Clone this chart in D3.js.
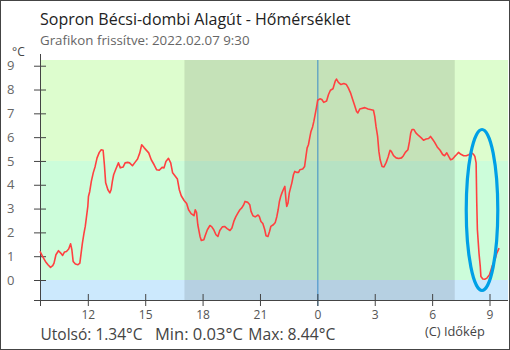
<!DOCTYPE html>
<html>
<head>
<meta charset="utf-8">
<script src="https://cdn.jsdelivr.net/npm/d3@7"></script>
<style>
  body { margin: 0; background: #fff; }
  svg { display: block; font-family: "Open Sans", sans-serif; }
</style>
</head>
<body>
<svg></svg>
<script>
// Sopron Bécsi-dombi Alagút, 2022.02.06 9:30 -> 2022.02.07 9:30
let times = [
  "09:30","09:38","09:47","09:55","10:03","10:10","10:14","10:20","10:28","10:35",
  "10:41","10:47","10:53","11:00","11:06","11:10","11:14","11:21","11:29","11:35",
  "11:39","11:43","11:48","11:52","11:56","12:00","12:02","12:06","12:11","12:17",
  "12:23","12:29","12:36","12:42","12:48","12:52","12:56","13:03","13:09","13:13",
  "13:17","13:21","13:28","13:36","13:42","13:51","13:57","14:05","14:11","14:20",
  "14:28","14:36","14:43","14:49","14:57","15:11","15:19","15:28","15:36","15:44",
  "15:53","15:59","16:05","16:13","16:20","16:26","16:32","16:41","16:47","16:53",
  "17:02","17:10","17:16","17:24","17:33","17:37","17:41","17:45","17:52","17:56",
  "18:04","18:08","18:15","18:23","18:29","18:35","18:42","18:48","18:54","19:02",
  "19:09","19:17","19:26","19:32","19:38","19:44","19:51","19:57","20:03","20:09",
  "20:13","20:22","20:28","20:32","20:38","20:45","20:54","20:58","21:03","21:09",
  "21:15","21:19","21:25","21:30","21:34","21:42","21:48","21:53","21:57","22:01",
  "22:05","22:09","22:13","22:18","22:22","22:24","22:28","22:32","22:36","22:40",
  "22:45","22:49","22:55","23:01","23:05","23:14","23:20","23:24","23:28","23:32",
  "23:36","23:40","23:45","23:49","23:53","23:57","00:01","00:08","00:14","00:20",
  "00:29","00:35","00:41","00:49","00:56","01:00","01:06","01:14","01:23","01:31",
  "01:37","01:44","01:50","01:56","02:03","02:07","02:13","02:29","02:39","02:56",
  "03:00","03:04","03:09","03:13","03:17","03:23","03:29","03:36","03:42","03:48",
  "03:52","03:59","04:07","04:15","04:24","04:30","04:36","04:44","04:49","04:53",
  "04:57","05:03","05:09","05:18","05:26","05:33","05:41","05:49","05:55","06:02",
  "06:08","06:16","06:25","06:33","06:39","06:46","06:52","06:58","07:04","07:11",
  "07:17","07:23","07:30","07:39","07:47","07:55","08:04","08:10","08:14","08:18",
  "08:20","08:22","08:27","08:31","08:33","08:39","08:45","08:52","09:00","09:08",
  "09:17","09:23","09:30"
];
let temps = [
  1.20,0.99,0.78,0.64,0.53,0.60,0.71,1.06,1.23,1.13,
  1.03,1.18,1.20,1.30,1.52,1.27,0.78,0.67,0.64,0.71,
  1.13,1.55,1.97,2.25,2.67,3.09,3.51,3.72,4.14,4.50,
  4.77,5.13,5.36,5.47,5.45,4.84,4.08,3.79,3.66,3.79,
  4.14,4.42,4.66,4.92,4.71,4.75,4.92,4.94,4.92,4.80,
  4.94,5.08,5.34,5.68,5.55,5.34,5.05,4.84,4.63,4.61,
  4.73,4.71,4.98,5.11,4.92,4.50,4.40,4.24,3.79,3.54,
  3.34,3.21,2.95,2.79,2.70,2.95,2.84,2.32,1.83,1.66,
  1.69,1.86,2.11,2.29,2.23,2.11,1.90,1.83,2.08,2.23,
  2.25,2.16,2.08,2.18,2.46,2.65,2.82,2.95,3.03,3.16,
  3.30,3.26,3.16,2.88,2.70,2.65,2.73,2.67,2.46,2.37,
  2.11,1.86,1.83,2.04,2.25,2.32,2.42,2.67,2.95,3.30,
  3.51,3.66,3.79,3.93,3.30,3.09,3.24,3.66,3.87,4.08,
  4.42,4.56,4.52,4.52,4.63,4.66,4.77,5.17,5.55,5.68,
  5.97,6.24,6.43,6.66,6.95,7.23,7.55,7.61,7.58,7.46,
  7.52,7.79,7.97,8.03,8.35,8.44,8.30,8.21,8.25,8.21,
  8.07,7.86,7.61,7.37,7.08,7.02,7.18,7.24,7.18,7.13,
  6.87,6.45,6.03,5.40,5.05,4.77,4.75,4.94,5.17,5.45,
  5.40,5.22,5.13,5.10,5.13,5.22,5.36,5.47,5.82,6.18,
  6.32,6.32,6.18,6.06,5.97,5.87,5.92,5.94,6.03,5.90,
  5.78,5.59,5.45,5.27,5.22,5.34,5.19,5.05,5.08,5.19,
  5.27,5.36,5.28,5.22,5.22,5.26,5.34,5.28,5.19,4.92,
  3.24,2.11,1.13,0.57,0.15,0.04,0.03,0.08,0.22,0.57,
  0.85,1.13,1.34
];
let tickHours = [12, 15, 18, 21, 0, 3, 6, 9];
let tickValues = [0, 1, 2, 3, 4, 5, 6, 7, 8, 9];
let bandLimits = [5, 0];            // above 5 / 0..5 / below 0
let nightTimes = ["17:03", "07:11"];  // sunset, sunrise
let circleTimes = ["07:47", "09:26"];
let circleValues = [-0.44, 6.32];
let summary = ["Utolsó: 1.34°C", "Min: 0.03°C", "Max: 8.44°C"];

let width = 510;
let height = 350;
let padLeft = 40, padRight = 508, padTop = 60, padBottom = 300;

let svg = d3.select("svg").attr("width", width).attr("height", height);

// times -> dates, rolling over to the next day after midnight
let day0 = new Date(2022, 1, 6);
let toDate = (s, afterMidnight) => {
  let p = s.split(":");
  let d = new Date(day0);
  if (afterMidnight) d.setDate(7);
  d.setHours(+p[0], +p[1]);
  return d;
};
let dates = [];
let rolled = false;
times.forEach((s, i) => {
  if (i > 0 && s < times[i - 1]) rolled = true;
  dates.push(toDate(s, rolled));
});
let values = dates.map((d, i) => [d, temps[i]]);

let xScale = d3.scaleTime()
  .domain([toDate("09:30", false), toDate("09:58", true)])
  .range([padLeft, padRight]);
let yScale = d3.scaleLinear()
  .domain([-0.84, 9.24])
  .range([padBottom, padTop]);

// background bands
let bands = [
  { y0: 9.24, y1: bandLimits[0], color: "#ddfdce" },
  { y0: bandLimits[0], y1: bandLimits[1], color: "#ccfdda" },
  { y0: bandLimits[1], y1: -0.84, color: "#cce9fd" }
];
svg.selectAll(".band").data(bands).enter().append("rect")
  .attr("x", padLeft)
  .attr("width", padRight - padLeft)
  .attr("y", d => yScale(d.y0))
  .attr("height", d => yScale(d.y1) - yScale(d.y0))
  .attr("fill", d => d.color);

let nightStart = toDate(nightTimes[0], false);
let nightEnd = toDate(nightTimes[1], true);
svg.append("rect")
  .attr("x", xScale(nightStart))
  .attr("width", xScale(nightEnd) - xScale(nightStart))
  .attr("y", padTop)
  .attr("height", padBottom - padTop)
  .attr("fill", "#000")
  .attr("fill-opacity", 0.105);

// midnight marker
let midnight = new Date(2022, 1, 7);
svg.append("line")
  .attr("x1", xScale(midnight) + 0.5).attr("x2", xScale(midnight) + 0.5)
  .attr("y1", padTop).attr("y2", padBottom + 6)
  .attr("stroke", "#3a8cc8").attr("stroke-width", 1);

// axes
let tickDates = tickHours.map(h => {
  let d = new Date(day0);
  if (h < 9.5) d.setDate(7);
  d.setHours(h, 0);
  return d;
});
let xAxis = d3.axisBottom(xScale)
  .tickValues(tickDates)
  .tickFormat(d => d.getHours())
  .tickSize(6)
  .tickPadding(4.5);
let gx = svg.append("g")
  .attr("transform", "translate(0," + padBottom + ")")
  .call(xAxis);
gx.select(".domain").remove();
gx.selectAll(".tick line").attr("y1", -6).attr("y2", 6).attr("stroke", "#444");
gx.selectAll(".tick text")
  .attr("fill", "#555")
  .style("font-size", "12px")
  .style("font-family", "Open Sans");

let yAxis = d3.axisLeft(yScale)
  .tickValues(tickValues)
  .tickSize(6)
  .tickPadding(10);
let gy = svg.append("g")
  .attr("transform", "translate(" + padLeft + ",0)")
  .call(yAxis);
gy.select(".domain").remove();
gy.selectAll(".tick line").attr("x1", -6).attr("x2", 6).attr("stroke", "#444");
gy.selectAll(".tick text")
  .attr("x", -33)
  .attr("text-anchor", "start")
  .attr("fill", "#666")
  .style("font-size", "13px")
  .style("font-family", "Open Sans");

svg.append("line")
  .attr("x1", padLeft - 6).attr("x2", padRight)
  .attr("y1", padBottom + 0.5).attr("y2", padBottom + 0.5)
  .attr("stroke", "#444");
svg.append("line")
  .attr("x1", padLeft + 0.5).attr("x2", padLeft + 0.5)
  .attr("y1", padTop - 6).attr("y2", padBottom + 6)
  .attr("stroke", "#444");

// temperature line
let line = d3.line()
  .x(d => xScale(d[0]))
  .y(d => yScale(d[1]));
svg.append("path")
  .datum(values)
  .attr("d", line)
  .attr("fill", "none")
  .attr("stroke", "#ff4040")
  .attr("stroke-width", 1.6)
  .attr("stroke-linejoin", "round");

// blue highlight ellipse
let cx0 = xScale(toDate(circleTimes[0], true));
let cx1 = xScale(toDate(circleTimes[1], true));
svg.append("ellipse")
  .attr("cx", (cx0 + cx1) / 2)
  .attr("cy", (yScale(circleValues[0]) + yScale(circleValues[1])) / 2)
  .attr("rx", (cx1 - cx0) / 2)
  .attr("ry", (yScale(circleValues[0]) - yScale(circleValues[1])) / 2)
  .attr("fill", "none")
  .attr("stroke", "#00a0e6")
  .attr("stroke-width", 3.2);

// texts
svg.append("text").attr("x", 40).attr("y", 25)
  .attr("fill", "#222").style("font-size", "16px")
  .text("Sopron Bécsi-dombi Alagút - Hőmérséklet");
svg.append("text").attr("x", 40).attr("y", 45)
  .attr("fill", "#666").style("font-size", "13.3px")
  .text("Grafikon frissítve: 2022.02.07 9:30");
svg.append("text").attr("x", 12).attr("y", 56)
  .attr("fill", "#444").style("font-size", "12px")
  .text("°C");

let summaryX = [40.5, 155, 248.3];
let summaryW = [102, 88, 87];
svg.selectAll(".summary").data(summary).enter().append("text")
  .attr("x", (d, i) => summaryX[i])
  .attr("y", 340)
  .attr("fill", "#444")
  .style("font-size", "17px")
  .attr("textLength", (d, i) => summaryW[i])
  .attr("lengthAdjust", "spacingAndGlyphs")
  .text(d => d);
svg.append("text").attr("x", 425).attr("y", 335.5)
  .attr("fill", "#444").style("font-size", "12.8px")
  .text("(C) Időkép");

// frame
svg.append("rect")
  .attr("x", 0.5).attr("y", 0.5)
  .attr("width", width - 1).attr("height", height - 1)
  .attr("fill", "none").attr("stroke", "#444");
</script>
</body>
</html>
